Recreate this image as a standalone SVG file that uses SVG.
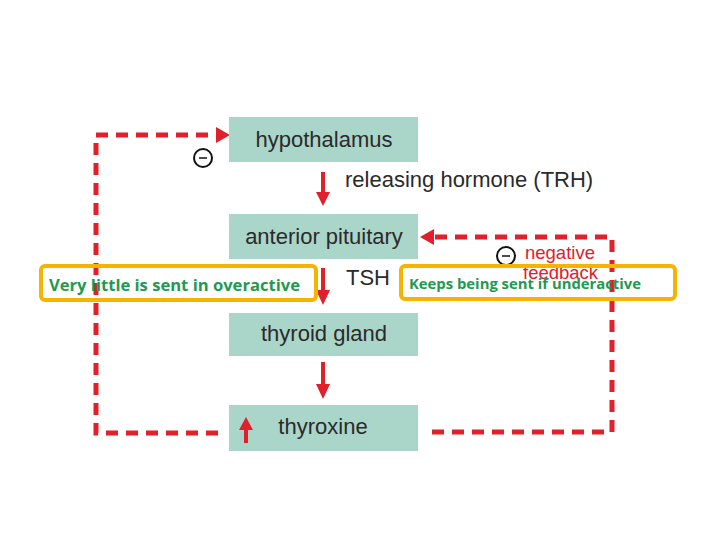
<svg xmlns="http://www.w3.org/2000/svg" width="720" height="540" viewBox="0 0 720 540">
<defs>
<style>
.box{fill:#aad5c9}
.lbl{font-family:"Liberation Sans",Arial,sans-serif;font-size:22px;fill:#2a2a2a}
.dash{fill:none;stroke:#e0202b;stroke-width:5;stroke-dasharray:12 8}
.solid{stroke:#e0202b;stroke-width:4;fill:none}
.hl{fill:none;stroke:#f4b400;stroke-width:4}
.note{font-family:"Open Sans","Liberation Sans",sans-serif;font-weight:bold;fill:#1f9a50}
.minus{fill:none;stroke:#111;stroke-width:2}
.neg{font-family:"Liberation Sans",Arial,sans-serif;font-size:18.5px;fill:#e0202b}
</style>
</defs>
<rect width="720" height="540" fill="#fff"/>
<g id="connectors">
<polyline class="dash" points="218,433 96,433 96,135 216,135"/>
<path d="M216,127 L230,135 L216,143 z" fill="#e0202b"/>
<polyline class="dash" points="432,432 612,432 612,237 434,237"/>
<path d="M434,229 L420,237 L434,245 z" fill="#e0202b"/>
<line class="solid" x1="323" y1="172" x2="323" y2="194"/>
<path d="M316,192 L323,206 L330,192 z" fill="#e0202b"/>
<line class="solid" x1="323" y1="268" x2="323" y2="292"/>
<path d="M316,290 L323,305 L330,290 z" fill="#e0202b"/>
<line class="solid" x1="323" y1="362" x2="323" y2="386"/>
<path d="M316,384 L323,399 L330,384 z" fill="#e0202b"/>
<circle class="minus" cx="203" cy="158" r="9"/>
<line x1="199" y1="158" x2="207" y2="158" stroke="#111" stroke-width="1.5"/>
<circle class="minus" cx="506" cy="256" r="9"/>
<line x1="502" y1="256" x2="510" y2="256" stroke="#111" stroke-width="1.5"/>
<text x="345" y="187" class="lbl">releasing hormone (TRH)</text>
<text x="346" y="285" class="lbl">TSH</text>
<text x="525" y="259" class="neg">negative</text>
<text x="523" y="279" class="neg">feedback</text>
</g>
<g id="hypothalamus"><rect class="box" x="229" y="117" width="189" height="45"/><text class="lbl" x="324" y="147" text-anchor="middle">hypothalamus</text></g>
<g id="anterior-pituitary"><rect class="box" x="229" y="214" width="189" height="45"/><text class="lbl" x="324" y="244" text-anchor="middle">anterior pituitary</text></g>
<g id="thyroid-gland"><rect class="box" x="229" y="313" width="189" height="43"/><text class="lbl" x="324" y="341" text-anchor="middle">thyroid gland</text></g>
<g id="thyroxine"><rect class="box" x="229" y="405" width="189" height="46"/><text class="lbl" x="323" y="434" text-anchor="middle">thyroxine</text>
<line class="solid" x1="246" y1="443" x2="246" y2="428"/>
<path d="M239,430 L246,417 L253,430 z" fill="#e0202b"/></g>
<g id="note-left"><rect class="hl" x="41" y="266" width="275" height="34" rx="4"/><text class="note" x="49" y="291" font-size="15.5" textLength="251" lengthAdjust="spacingAndGlyphs">Very little is sent in overactive</text></g>
<g id="note-right"><rect class="hl" x="401" y="266" width="274" height="33" rx="4"/><text class="note" x="409" y="289" font-size="14" textLength="232" lengthAdjust="spacingAndGlyphs">Keeps being sent if underactive</text></g>
</svg>
